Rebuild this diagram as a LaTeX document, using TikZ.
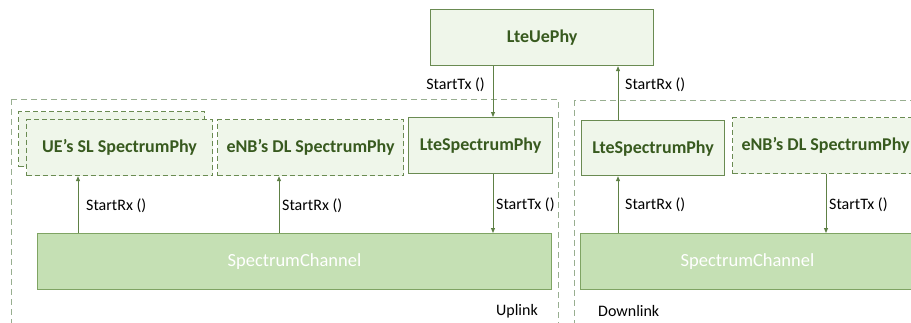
\documentclass[tikz,border=0pt]{standalone}
\usepackage{fontspec}
\setmainfont{Carlito}
\usetikzlibrary{arrows.meta}
\definecolor{boxfill}{HTML}{EFF6EA}
\definecolor{boxline}{HTML}{6A8B52}
\definecolor{boxtext}{HTML}{385A1F}
\definecolor{chanfill}{HTML}{C5E0B4}
\definecolor{chanline}{HTML}{7FA463}
\definecolor{grpline}{HTML}{98AE90}
\definecolor{linkline}{HTML}{5E8045}
\begin{document}
\begin{tikzpicture}[x=1pt,y=-1pt,
  phybox/.style={draw=boxline, line width=1.2pt, fill=boxfill, text=boxtext,
    font=\fontsize{18}{20}\selectfont\bfseries, inner sep=0pt, anchor=north west},
  slbox/.style={phybox, dash pattern=on 5pt off 3pt},
  chanbox/.style={draw=chanline, line width=1pt, fill=chanfill, text=white,
    font=\fontsize{18.5}{20}\selectfont, inner sep=0pt, anchor=north west, minimum height=56pt},
  group/.style={draw=grpline, line width=1pt, dash pattern=on 6pt off 4pt},
  call/.style={draw=linkline, line width=0.9pt, -{Triangle[length=5pt,width=4pt]}},
  calllabel/.style={font=\fontsize{16}{18}\selectfont, inner sep=0pt},
  sidelabel/.style={font=\fontsize{16}{18}\selectfont, inner sep=0pt}
]
\useasboundingbox (0,0) rectangle (911,322);
\clip (0,0) rectangle (911,322);

% uplink and downlink groups
\draw[group] (11,99) rectangle (558,345);
\draw[group] (574,100) rectangle (945,345);

% PHY entities
\node[phybox, minimum width=223pt, minimum height=56pt] (uephy) at (430,9) {LteUePhy};

\node[slbox, minimum width=186pt, minimum height=55pt] (ueslback) at (18,111) {};
\node[slbox, minimum width=186pt, minimum height=56pt] (uesl) at (26,119) {UE’s SL SpectrumPhy};
\node[slbox, minimum width=186pt, minimum height=56pt] (enbL) at (217,119) {eNB’s DL SpectrumPhy};
\node[phybox, minimum width=144pt, minimum height=56pt] (lspL) at (408,117) {LteSpectrumPhy};

\node[phybox, minimum width=143pt, minimum height=55pt] (lspR) at (581,120) {LteSpectrumPhy};
\node[slbox, minimum width=186pt, minimum height=56pt] (enbR) at (732,117) {eNB’s DL SpectrumPhy};

% channels
\node[chanbox, minimum width=514pt] (chanL) at (37,233) {SpectrumChannel};
\node[chanbox, minimum width=334pt] (chanR) at (580,233) {SpectrumChannel};

% connector columns
\coordinate (c1) at (493,0);
\coordinate (c2) at (618,0);
\coordinate (c3) at (78,0);
\coordinate (c4) at (279,0);
\coordinate (c5) at (826,0);

\draw[call] (c1 |- uephy.south) -- (c1 |- lspL.north);
\draw[call] (c2 |- lspR.north) -- (c2 |- uephy.south);
\draw[call] (c3 |- chanL.north) -- (c3 |- uesl.south);
\draw[call] (c4 |- chanL.north) -- (c4 |- enbL.south);
\draw[call] (c1 |- lspL.south) -- (c1 |- chanL.north);
\draw[call] (c2 |- chanR.north) -- (c2 |- lspR.south);
\draw[call] (c5 |- enbR.south) -- (c5 |- chanR.north);

% call labels
\node[calllabel, anchor=east] (l1) at (485,85) {StartTx ()};
\node[calllabel, anchor=west] (l2) at (625,85) {StartRx ()};
\node[calllabel, anchor=west] (l3) at (86,206) {StartRx ()};
\node[calllabel, anchor=west] (l4) at (282,206) {StartRx ()};
\node[calllabel, anchor=west] (l5) at (496,205) {StartTx ()};
\node[calllabel, anchor=west] (l6) at (625,205) {StartRx ()};
\node[calllabel, anchor=west] (l7) at (829,205) {StartTx ()};

% group captions
\node[sidelabel, anchor=east] (up) at (538,311) {Uplink};
\node[sidelabel, anchor=west] (down) at (598,311) {Downlink};
\end{tikzpicture}
\end{document}
